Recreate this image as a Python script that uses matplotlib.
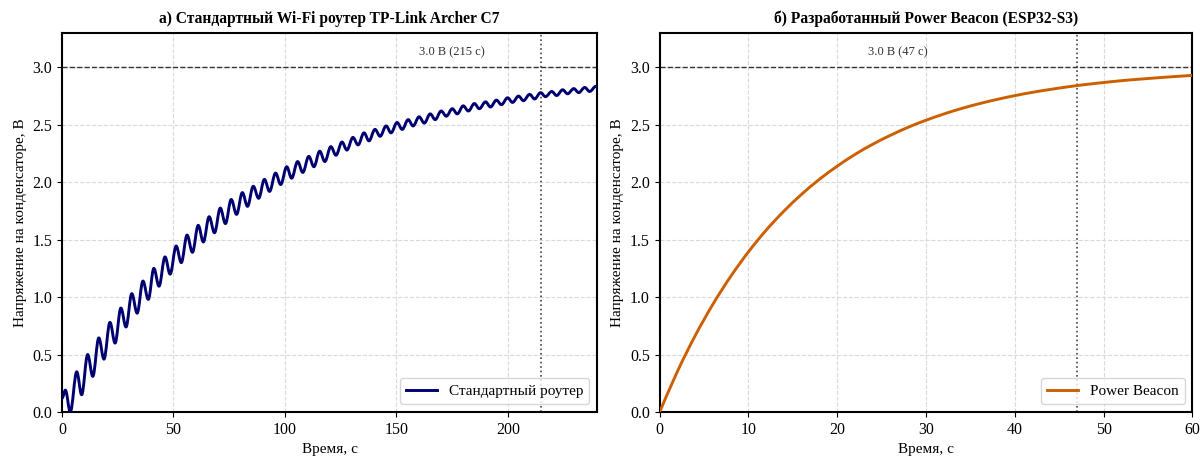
import matplotlib
matplotlib.use('Agg')
import matplotlib.pyplot as plt
from matplotlib.path import Path
from matplotlib.patches import PathPatch
from matplotlib.lines import Line2D

plt.rcParams['font.family'] = ['Liberation Serif', 'DejaVu Serif']

# ---- Data ----
# (a) standard router: start/end points, local maxima and minima of the rippled charge curve
router_start = (0.0, 0.12)
router_end = (240.0, 2.83)
router_peak_t = [1.5, 6.6, 11.5, 16.5, 21.5, 26.4, 31.3, 36.3, 41.2, 46.2, 51.2, 56.1,
                 61.1, 66.0, 71.0, 75.9, 80.9, 85.8, 90.8, 95.8, 100.8, 105.7, 110.7,
                 115.6, 120.6, 125.6, 130.5, 135.5, 140.4, 145.4, 150.3, 155.3, 160.2,
                 165.2, 170.1, 175.1, 180.0, 185.0, 190.0, 194.9, 199.9, 204.8, 209.8,
                 214.7, 219.7, 224.6, 229.6, 234.5, 239.5]
router_peak_v = [0.19, 0.35, 0.50, 0.645, 0.78, 0.905, 1.03, 1.14, 1.25, 1.35, 1.445, 1.54,
                 1.625, 1.70, 1.775, 1.85, 1.91, 1.965, 2.025, 2.08, 2.135, 2.18, 2.225,
                 2.27, 2.31, 2.35, 2.39, 2.43, 2.46, 2.49, 2.52, 2.545, 2.57,
                 2.595, 2.62, 2.64, 2.665, 2.685, 2.70, 2.715, 2.735, 2.75, 2.765,
                 2.78, 2.79, 2.805, 2.815, 2.825, 2.835]
router_trough_t = [3.7, 8.8, 13.8, 18.8, 23.8, 28.7, 33.7, 38.7, 43.5, 48.5, 53.5, 58.5,
                   63.4, 68.4, 73.3, 78.3, 83.2, 88.2, 93.1, 98.1, 103.0, 108.0, 113.0,
                   117.9, 122.9, 127.8, 132.8, 137.7, 142.7, 147.6, 152.6, 157.5, 162.5,
                   167.4, 172.4, 177.3, 182.3, 187.2, 192.2, 197.1, 202.1, 207.0, 212.0,
                   216.9, 221.9, 226.8, 231.8, 236.7]
router_trough_v = [0.00, 0.15, 0.31, 0.46, 0.60, 0.74, 0.86, 0.98, 1.095, 1.20, 1.30, 1.39,
                   1.48, 1.56, 1.64, 1.72, 1.79, 1.86, 1.92, 1.98, 2.035, 2.085, 2.135,
                   2.18, 2.235, 2.28, 2.325, 2.36, 2.40, 2.43, 2.46, 2.49, 2.515,
                   2.545, 2.575, 2.595, 2.62, 2.64, 2.655, 2.675, 2.695, 2.71, 2.725,
                   2.745, 2.755, 2.77, 2.78, 2.79]

# (б) Power Beacon
beacon_t = [0, 2, 4, 6, 8, 10, 12, 14, 16, 18, 20, 22, 24, 26, 28, 30,
            32, 34, 36, 38, 40, 42, 44, 46, 48, 50, 52, 54, 56, 58, 60]
beacon_v = [0.000, 0.353, 0.664, 0.938, 1.180, 1.394, 1.583, 1.749, 1.896, 2.026, 2.140,
            2.242, 2.331, 2.409, 2.479, 2.540, 2.594, 2.642, 2.684, 2.721, 2.754, 2.783,
            2.808, 2.831, 2.851, 2.868, 2.884, 2.897, 2.909, 2.920, 2.930]

threshold_v = 3.0
router_cross_t = 215
beacon_cross_t = 47

titles = ['а) Стандартный Wi-Fi роутер TP-Link Archer C7',
          'б) Разработанный Power Beacon (ESP32-S3)']
labels = ['Стандартный роутер', 'Power Beacon']
xlabel = 'Время, с'
ylabel = 'Напряжение на конденсаторе, В'
router_color = '#000070'
beacon_color = '#CC6000'
LW = 2.1

fig = plt.figure(figsize=(12, 4.57), dpi=100)
ax1 = fig.add_axes([0.0517, 0.0985, 0.4458, 0.8295])
ax2 = fig.add_axes([0.5497, 0.0985, 0.4440, 0.8295])

# smooth ripple curve through the extrema using the library's Bezier path
ext = sorted([router_start, router_end] + list(zip(router_peak_t, router_peak_v))
             + list(zip(router_trough_t, router_trough_v)))
verts = [ext[0]]
codes = [Path.MOVETO]
for (t0, v0), (t1, v1) in zip(ext[:-1], ext[1:]):
    h = t1 - t0
    verts += [(t0 + 0.36 * h, v0), (t1 - 0.36 * h, v1), (t1, v1)]
    codes += [Path.CURVE4] * 3
ax1.add_patch(PathPatch(Path(verts, codes), fill=False, edgecolor=router_color,
                        lw=LW, zorder=3, capstyle='round', joinstyle='round'))
h1 = Line2D([], [], color=router_color, lw=LW)

# smooth beacon curve (Catmull-Rom as Bezier path)
pts = list(zip(beacon_t, beacon_v))
ext_pts = [pts[0]] + pts + [pts[-1]]
bverts = [pts[0]]
bcodes = [Path.MOVETO]
for i in range(1, len(ext_pts) - 2):
    p0, p1, p2, p3 = ext_pts[i - 1], ext_pts[i], ext_pts[i + 1], ext_pts[i + 2]
    c1 = (p1[0] + (p2[0] - p0[0]) / 6, p1[1] + (p2[1] - p0[1]) / 6)
    c2 = (p2[0] - (p3[0] - p1[0]) / 6, p2[1] - (p3[1] - p1[1]) / 6)
    bverts += [c1, c2, p2]
    bcodes += [Path.CURVE4] * 3
ax2.add_patch(PathPatch(Path(bverts, bcodes), fill=False, edgecolor=beacon_color,
                        lw=LW, zorder=3, capstyle='round', joinstyle='round'))
h2 = Line2D([], [], color=beacon_color, lw=LW)

for ax, xmax, cross, title, handle, lab, tx in [
        (ax1, 240, router_cross_t, titles[0], h1, labels[0], 175),
        (ax2, 60, beacon_cross_t, titles[1], h2, labels[1], 26.8)]:
    ax.set_xlim(0, xmax)
    ax.set_ylim(0, 3.3)
    ax.set_yticks([0, 0.5, 1.0, 1.5, 2.0, 2.5, 3.0])
    ax.set_yticklabels(['0.0', '0.5', '1.0', '1.5', '2.0', '2.5', '3.0'])
    ax.axhline(threshold_v, color='#333333', ls='--', lw=1.0, zorder=2)
    ax.axvline(cross, color='#444444', ls=':', lw=1.2, zorder=2)
    ax.text(tx, 3.13, f'3.0 В ({cross} с)', ha='center', va='center',
            fontsize=9, color='#333333')
    ax.grid(True, ls='--', color='#d9d9d9', lw=0.8)
    ax.set_axisbelow(True)
    ax.set_title(title, fontsize=11.2, fontweight='bold', pad=7)
    ax.set_xlabel(xlabel, fontsize=11)
    ax.set_ylabel(ylabel, fontsize=11)
    ax.tick_params(labelsize=11.5)
    for s in ax.spines.values():
        s.set_linewidth(1.5)
    ax.legend([handle], [lab], loc='lower right', fontsize=11)

ax1.set_xticks([0, 50, 100, 150, 200])
ax2.set_xticks([0, 10, 20, 30, 40, 50, 60])

fig.savefig('out.png', dpi=100)
